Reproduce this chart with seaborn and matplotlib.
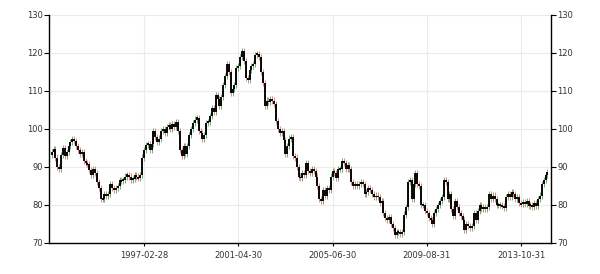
import numpy as np
import pandas as pd
import matplotlib
matplotlib.use("Agg")
import matplotlib.pyplot as plt
import seaborn as sns

# ---- data: monthly closes, Jan 1993 .. Dec 2014 ----
close_1993_1996 = [
    94.0, 94.8, 92.5, 90.0, 89.5, 93.2, 95.0, 93.0, 94.0, 95.5, 96.5, 97.3,
    96.8, 95.5, 94.5, 93.5, 94.0, 91.5, 91.0, 90.8, 89.2, 88.0, 89.5, 88.5,
    86.0, 84.5, 81.5, 81.5, 82.8, 82.5, 83.0, 85.5, 84.5, 84.0, 84.5, 85.0,
    86.5, 86.2, 86.5, 87.5, 87.8, 87.5, 86.5, 86.8, 87.8, 87.5, 87.2, 88.0,
]
close_1997_2000 = [
    92.5, 94.5, 95.8, 96.0, 94.5, 96.0, 99.5, 98.0, 96.5, 97.5, 99.5, 100.0,
    99.0, 100.5, 101.0, 100.0, 101.2, 100.5, 101.8, 99.5, 94.5, 93.0, 95.5, 93.5,
    95.5, 98.5, 100.0, 101.5, 102.5, 102.8, 99.5, 99.0, 97.5, 98.5, 101.5, 101.8,
    103.5, 105.5, 104.5, 109.0, 108.0, 106.0, 108.5, 111.5, 114.0, 117.0, 115.0, 109.5,
]
close_2001_2004 = [
    110.5, 111.5, 116.0, 116.5, 119.0, 120.5, 118.0, 113.5, 113.0, 115.5, 116.5, 117.0,
    119.5, 119.8, 119.0, 115.0, 112.0, 106.0, 107.5, 107.0, 108.0, 107.5, 106.5, 102.0,
    100.0, 99.0, 99.5, 97.0, 93.5, 95.5, 97.5, 98.0, 93.0, 92.5, 90.0, 87.5,
    87.0, 88.5, 88.0, 91.0, 89.0, 88.5, 89.5, 89.0, 87.5, 85.0, 81.5, 81.0,
]
close_2005_2009 = [
    84.0, 82.5, 84.5, 84.0, 87.5, 89.0, 88.5, 87.0, 89.5, 89.5, 91.5, 91.0,
    89.5, 90.5, 89.5, 86.0, 85.0, 85.5, 85.0, 85.5, 86.0, 85.5, 83.0, 83.5,
    84.5, 84.0, 83.0, 82.0, 82.5, 82.0, 80.5, 81.0, 78.0, 76.5, 76.0, 76.8,
    75.0, 74.0, 72.0, 73.0, 73.0, 72.5, 73.0, 77.5, 79.5, 86.0, 86.5, 81.5,
    85.5, 88.5, 85.5, 85.0, 80.0, 80.0, 78.5, 78.0, 76.5, 76.0, 75.0, 77.8,
]
close_2010_2014 = [
    79.0, 80.0, 81.0, 82.0, 86.5, 86.0, 81.5, 83.0, 79.0, 77.0, 81.0, 79.5,
    78.0, 77.0, 76.0, 73.5, 75.0, 74.5, 74.0, 74.5, 78.0, 76.0, 78.5, 80.0,
    79.0, 79.5, 79.0, 79.5, 83.0, 81.5, 82.5, 81.5, 80.0, 80.0, 80.0, 79.8,
    79.2, 82.0, 83.0, 82.0, 83.5, 83.0, 81.5, 82.0, 80.5, 80.2, 80.8, 80.3,
    81.0, 79.8, 80.0, 79.5, 80.5, 79.8, 81.5, 82.5, 85.5, 86.5, 88.0, 88.8,
]
closes = close_1993_1996 + close_1997_2000 + close_2001_2004 + close_2005_2009 + close_2010_2014
first_open = 93.2
dates = pd.date_range("1993-01-31", periods=len(closes), freq="ME")

tick_labels = ["1997-02-28", "2001-04-30", "2005-06-30", "2009-08-31", "2013-10-31"]
y_ticks = [70, 80, 90, 100, 110, 120, 130]

df = pd.DataFrame({"date": dates, "close": closes})
df["open"] = df["close"].shift(1).fillna(first_open)
df["pos"] = np.arange(len(df))
date_str = df["date"].dt.strftime("%Y-%m-%d").tolist()
tick_pos = [date_str.index(t) for t in tick_labels]

# ---- style ----
sns.set_theme(style="white")
plt.rcParams["font.family"] = ["DejaVu Sans"]

fig = plt.figure(figsize=(6.0, 2.74), dpi=100)
ax = fig.add_axes([49 / 600, 1 - 243 / 274, 502 / 600, 228 / 274])

ax.set_xlim(-1.4, 264.9)
ax.set_ylim(70, 130)

# grid
for y in y_ticks:
    ax.axhline(y, color="#ebebeb", lw=0.8, zorder=0)
for p in tick_pos:
    ax.axvline(p, color="#ebebeb", lw=0.8, zorder=0)

up = df["close"] >= df["open"]
hi = np.maximum(df["open"], df["close"])
lo = np.minimum(df["open"], df["close"])
wick = 0.8
ax.vlines(df["pos"][up], lo[up] - wick, hi[up] + wick, color="#6fae6f", lw=0.7, zorder=2)
ax.vlines(df["pos"][~up], lo[~up] - wick, hi[~up] + wick, color="#df8a86", lw=0.7, zorder=2)
ax.vlines(df["pos"], df["open"], df["close"], color="black", lw=1.35, zorder=3)
# ensure tiny bodies still visible
small = (hi - lo) < 0.5
ax.vlines(df["pos"][small], df["close"][small] - 0.25, df["close"][small] + 0.25,
          color="black", lw=1.35, zorder=3)

ax.set_xticks(tick_pos)
ax.set_xticklabels(tick_labels)
ax.set_yticks(y_ticks)

ax.spines["top"].set_visible(False)
for s in ["left", "right", "bottom"]:
    ax.spines[s].set_visible(True)
    ax.spines[s].set_color("black")
    ax.spines[s].set_linewidth(1.0)

ax.tick_params(axis="y", which="both", left=True, right=True, labelleft=True, labelright=True,
               length=3.6, width=0.8, pad=1, labelsize=6, colors="black", labelcolor="#333333")
ax.tick_params(axis="x", bottom=True, length=2.2, width=0.8, pad=3.5, labelsize=6,
               colors="black", labelcolor="#333333")

fig.savefig("out.png", dpi=100)
